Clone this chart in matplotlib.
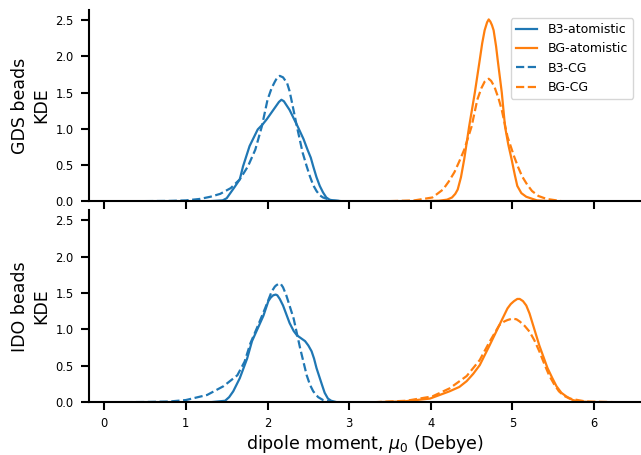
import matplotlib
matplotlib.use("Agg")
import matplotlib.pyplot as plt

# dipole moment grids and KDE values
# GDS beads
gds_b3_at_x = [1.30, 1.45, 1.50, 1.55, 1.60, 1.66, 1.70, 1.78, 1.88, 1.94, 1.99, 2.04, 2.09, 2.14, 2.17, 2.20, 2.27, 2.37, 2.44, 2.49, 2.53, 2.56, 2.60, 2.64, 2.68, 2.72, 2.76, 2.80, 2.90]
gds_b3_at_y = [0.0, 0.01, 0.04, 0.12, 0.20, 0.30, 0.48, 0.76, 0.99, 1.06, 1.13, 1.21, 1.29, 1.37, 1.40, 1.38, 1.26, 1.03, 0.86, 0.71, 0.60, 0.48, 0.33, 0.21, 0.12, 0.05, 0.02, 0.01, 0.0]

gds_bg_at_x = [3.90, 4.10, 4.20, 4.26, 4.30, 4.33, 4.37, 4.41, 4.47, 4.54, 4.60, 4.63, 4.66, 4.69, 4.71, 4.73, 4.75, 4.77, 4.80, 4.82, 4.87, 4.91, 4.95, 4.99, 5.03, 5.06, 5.11, 5.17, 5.30, 5.45]
gds_bg_at_y = [0.0, 0.005, 0.02, 0.05, 0.10, 0.16, 0.33, 0.58, 1.03, 1.50, 1.95, 2.18, 2.36, 2.47, 2.51, 2.48, 2.43, 2.36, 2.14, 1.95, 1.50, 1.03, 0.78, 0.58, 0.36, 0.21, 0.11, 0.06, 0.01, 0.0]

gds_b3_cg_x = [0.50, 0.80, 1.00, 1.17, 1.30, 1.42, 1.55, 1.66, 1.76, 1.85, 1.93, 2.00, 2.05, 2.09, 2.12, 2.15, 2.19, 2.24, 2.27, 2.30, 2.36, 2.43, 2.48, 2.52, 2.56, 2.60, 2.64, 2.68, 2.78, 2.90]
gds_b3_cg_y = [0.0, 0.003, 0.01, 0.03, 0.06, 0.10, 0.18, 0.30, 0.48, 0.71, 1.03, 1.40, 1.56, 1.65, 1.71, 1.73, 1.71, 1.63, 1.52, 1.36, 1.03, 0.67, 0.48, 0.34, 0.22, 0.14, 0.08, 0.05, 0.01, 0.0]

gds_bg_cg_x = [3.50, 3.80, 4.02, 4.15, 4.22, 4.29, 4.35, 4.41, 4.50, 4.57, 4.62, 4.66, 4.69, 4.71, 4.74, 4.78, 4.83, 4.87, 4.94, 5.02, 5.07, 5.12, 5.18, 5.24, 5.32, 5.42, 5.60]
gds_bg_cg_y = [0.0, 0.01, 0.05, 0.16, 0.27, 0.40, 0.55, 0.71, 1.03, 1.40, 1.56, 1.65, 1.68, 1.69, 1.66, 1.58, 1.42, 1.26, 0.89, 0.62, 0.47, 0.34, 0.23, 0.14, 0.07, 0.03, 0.0]

# IDO beads
ido_b3_at_x = [1.30, 1.48, 1.53, 1.58, 1.66, 1.75, 1.81, 1.87, 1.95, 2.01, 2.04, 2.07, 2.10, 2.12, 2.15, 2.19, 2.27, 2.32, 2.36, 2.41, 2.46, 2.50, 2.54, 2.57, 2.60, 2.67, 2.70, 2.74, 2.78, 2.85]
ido_b3_at_y = [0.0, 0.02, 0.07, 0.15, 0.33, 0.60, 0.84, 0.99, 1.19, 1.39, 1.44, 1.47, 1.48, 1.47, 1.42, 1.33, 1.09, 0.98, 0.92, 0.88, 0.84, 0.78, 0.70, 0.60, 0.47, 0.23, 0.13, 0.05, 0.02, 0.0]

ido_bg_at_x = [3.30, 3.66, 3.99, 4.23, 4.35, 4.44, 4.52, 4.60, 4.72, 4.84, 4.94, 4.98, 5.02, 5.06, 5.09, 5.13, 5.17, 5.21, 5.24, 5.33, 5.43, 5.49, 5.54, 5.60, 5.66, 5.74, 5.82, 6.00]
ido_bg_at_y = [0.0, 0.01, 0.05, 0.15, 0.21, 0.29, 0.39, 0.51, 0.78, 1.06, 1.29, 1.35, 1.39, 1.42, 1.42, 1.39, 1.33, 1.22, 1.11, 0.78, 0.47, 0.33, 0.22, 0.13, 0.08, 0.03, 0.01, 0.0]

ido_b3_cg_x = [0.10, 0.50, 0.80, 1.00, 1.26, 1.46, 1.63, 1.72, 1.79, 1.87, 1.97, 2.05, 2.09, 2.11, 2.14, 2.16, 2.19, 2.23, 2.32, 2.40, 2.48, 2.52, 2.56, 2.62, 2.68, 2.80]
ido_b3_cg_y = [0.0, 0.003, 0.01, 0.03, 0.10, 0.22, 0.37, 0.56, 0.81, 1.02, 1.29, 1.52, 1.59, 1.61, 1.63, 1.63, 1.58, 1.47, 1.15, 0.74, 0.37, 0.24, 0.15, 0.07, 0.03, 0.0]

ido_bg_cg_x = [3.30, 3.70, 4.02, 4.23, 4.44, 4.60, 4.72, 4.84, 4.90, 4.94, 5.00, 5.05, 5.09, 5.15, 5.21, 5.27, 5.33, 5.39, 5.45, 5.51, 5.57, 5.63, 5.70, 5.90, 6.30]
ido_bg_cg_y = [0.0, 0.02, 0.08, 0.19, 0.36, 0.58, 0.83, 1.06, 1.11, 1.13, 1.15, 1.14, 1.11, 1.05, 0.97, 0.85, 0.70, 0.53, 0.37, 0.25, 0.15, 0.09, 0.05, 0.01, 0.0]

xticks = [0, 1, 2, 3, 4, 5, 6]
yticks = [0.0, 0.5, 1.0, 1.5, 2.0, 2.5]

blue = "#1f77b4"
orange = "#ff7f0e"

fig = plt.figure(figsize=(6.41, 4.55), dpi=100)
ax1 = fig.add_axes([0.139, 0.558, 0.859, 0.420])
ax2 = fig.add_axes([0.139, 0.116, 0.859, 0.422])

# top panel
ax1.plot(gds_b3_at_x, gds_b3_at_y, color=blue, lw=1.6, label="B3-atomistic")
ax1.plot(gds_bg_at_x, gds_bg_at_y, color=orange, lw=1.6, label="BG-atomistic")
ax1.plot(gds_b3_cg_x, gds_b3_cg_y, color=blue, lw=1.6, ls="--", label="B3-CG")
ax1.plot(gds_bg_cg_x, gds_bg_cg_y, color=orange, lw=1.6, ls="--", label="BG-CG")

# bottom panel
ax2.plot(ido_b3_at_x, ido_b3_at_y, color=blue, lw=1.6)
ax2.plot(ido_bg_at_x, ido_bg_at_y, color=orange, lw=1.6)
ax2.plot(ido_b3_cg_x, ido_b3_cg_y, color=blue, lw=1.6, ls="--")
ax2.plot(ido_bg_cg_x, ido_bg_cg_y, color=orange, lw=1.6, ls="--")

for ax in [ax1, ax2]:
    ax.set_xlim(-0.186, 6.56)
    ax.set_ylim(0, 2.64)
    ax.set_xticks(xticks)
    ax.set_yticks(yticks)
    ax.spines["top"].set_visible(False)
    ax.spines["right"].set_visible(False)
    ax.spines["left"].set_linewidth(1.5)
    ax.spines["bottom"].set_linewidth(1.5)
    ax.tick_params(length=6, width=1.5, labelsize=8.3, pad=5, colors="black")

ax1.set_xticklabels([])
ax1.set_ylabel("GDS beads\nKDE", fontsize=12.5)
ax2.set_ylabel("IDO beads\nKDE", fontsize=12.5)
ax2.set_xlabel("dipole moment, $\\mu_0$ (Debye)", fontsize=12.5, labelpad=2)

ax1.legend(loc="upper right", fontsize=9, handlelength=1.7, handletextpad=0.9,
           bbox_to_anchor=(1.0, 0.99))

fig.savefig("out.png", dpi=100)
